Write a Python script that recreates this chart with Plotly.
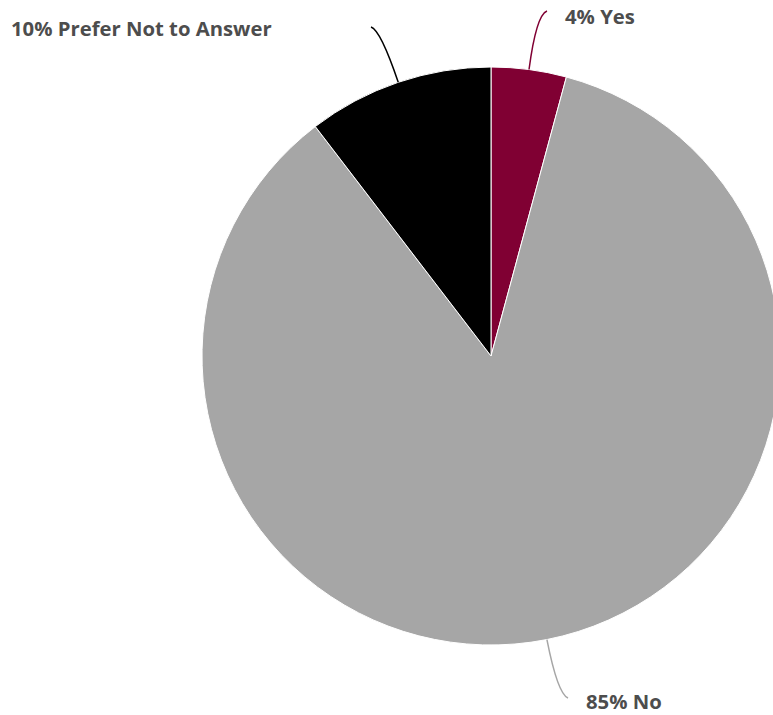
import numpy as np
import plotly.graph_objects as go

# ---- data ----
categories = ["Yes", "No", "Prefer Not to Answer"]
values = [4.2, 85.4, 10.4]
colors = ["#800033", "#a6a6a6", "#000000"]
label_texts = [f"{round(v)}% {c}" for c, v in zip(categories, values)]

# ---- layout geometry (pixels) ----
# the pie in the reference runs past the right edge of the 773px view,
# so the figure is slightly wider and the page clips it
W, H = 781, 715
CX, CY, R = 491.0, 356.0, 289.0


def px(x):
    return x / W


def py(y):
    return 1 - y / H


# connector end points and label anchor points (pixels)
conn_end = [(547, 11), (568, 698), (371, 27)]
text_pos = [(563, 16), (584, 701), (274, 28)]
text_anchor = ["left", "left", "right"]

fig = go.Figure(
    go.Pie(
        labels=categories,
        values=values,
        sort=False,
        direction="clockwise",
        rotation=0,
        marker=dict(colors=colors, line=dict(color="white", width=1)),
        textinfo="none",
        hoverinfo="label+percent",
        showlegend=False,
        domain=dict(
            x=[max(0, (CX - R) / W), min(1, (CX + R) / W)],
            y=[max(0, py(CY + R)), min(1, py(CY - R))],
        ),
    )
)

total = float(sum(values))
cum = np.cumsum([0] + values[:-1])
shapes = []
annotations = []
for i, v in enumerate(values):
    theta = 2 * np.pi * (cum[i] + v / 2) / total
    sx, sy = CX + R * np.sin(theta), CY - R * np.cos(theta)
    qx, qy = CX + (R + 55) * np.sin(theta), CY - (R + 55) * np.cos(theta)
    ex, ey = conn_end[i]
    path = (f"M {px(sx):.5f},{py(sy):.5f} Q {px(qx):.5f},{py(qy):.5f} "
            f"{px(ex):.5f},{py(ey):.5f}")
    shapes.append(dict(type="path", path=path, xref="paper", yref="paper",
                       line=dict(color=colors[i], width=1.5)))
    tx, ty = text_pos[i]
    annotations.append(dict(
        x=px(tx), y=py(ty), xref="paper", yref="paper",
        text=label_texts[i], showarrow=False,
        xanchor=text_anchor[i], yanchor="middle",
        font=dict(family="Open Sans", size=20.3, weight="bold", color="#4d4d4d"),
    ))

fig.update_layout(
    width=W, height=H,
    margin=dict(l=0, r=0, t=0, b=0),
    paper_bgcolor="white", plot_bgcolor="white",
    shapes=shapes, annotations=annotations,
    showlegend=False,
)

fig.write_html(
    "out.html",
    config={"displayModeBar": False},
    post_script="document.body.style.margin='0';document.body.style.overflow='hidden';",
)
